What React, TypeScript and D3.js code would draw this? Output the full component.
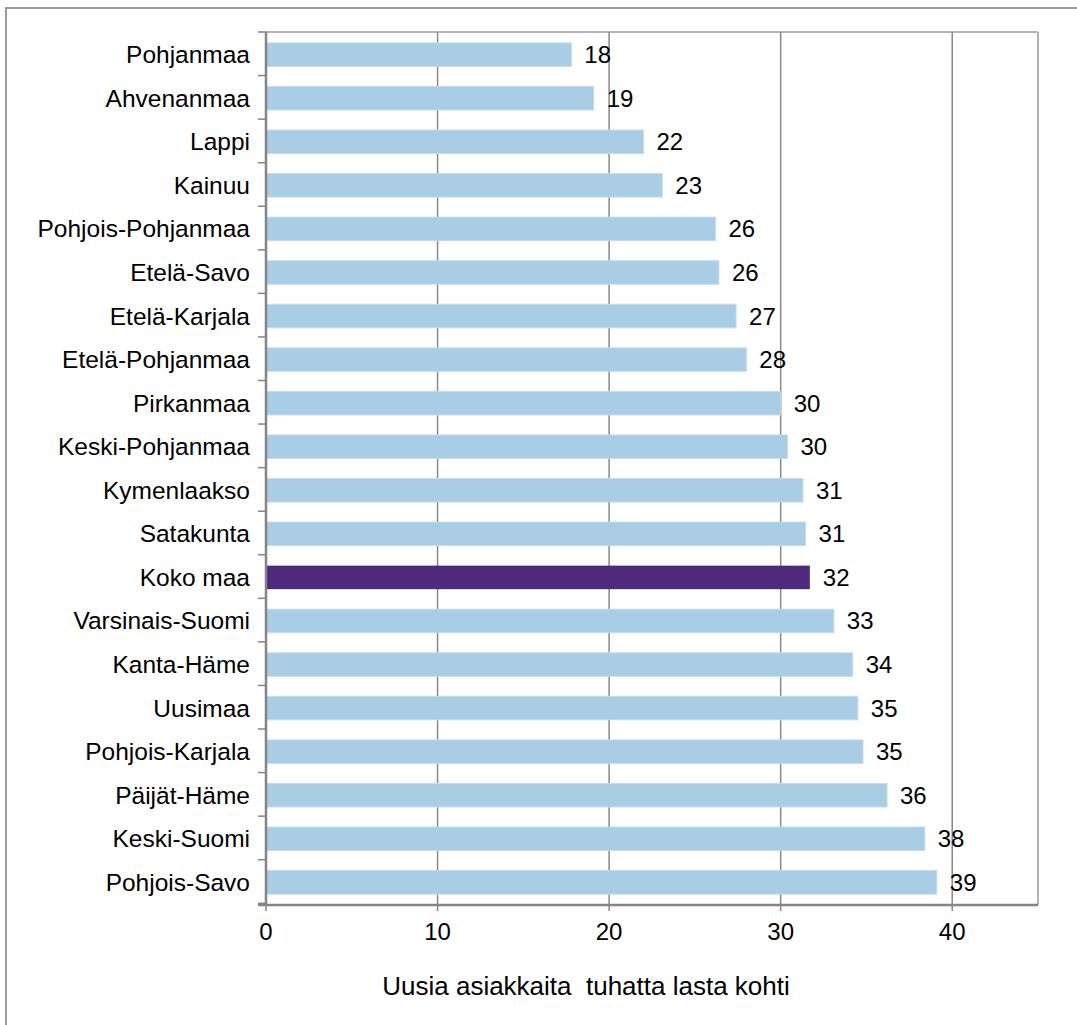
import React from "react";
import * as d3 from "d3";

const regions = [
  "Pohjanmaa",
  "Ahvenanmaa",
  "Lappi",
  "Kainuu",
  "Pohjois-Pohjanmaa",
  "Etelä-Savo",
  "Etelä-Karjala",
  "Etelä-Pohjanmaa",
  "Pirkanmaa",
  "Keski-Pohjanmaa",
  "Kymenlaakso",
  "Satakunta",
  "Koko maa",
  "Varsinais-Suomi",
  "Kanta-Häme",
  "Uusimaa",
  "Pohjois-Karjala",
  "Päijät-Häme",
  "Keski-Suomi",
  "Pohjois-Savo",
];

const values = [
  17.8, 19.1, 22.0, 23.1, 26.2, 26.4, 27.4, 28.0, 30.0, 30.4, 31.3, 31.45, 31.7,
  33.1, 34.2, 34.5, 34.8, 36.2, 38.4, 39.1,
];

const xTicks = [0, 10, 20, 30, 40];
const highlight = "Koko maa";
const axisTitle = "Uusia asiakkaita  tuhatta lasta kohti";

const W = 1077;
const H = 1025;
const left = 266;
const right = 1038;
const top = 32;
const bottom = 905;
const font = "'Liberation Sans', Arial, sans-serif";

const App = () => {
  const x = d3.scaleLinear().domain([0, 45]).range([left, right]);
  const y = d3
    .scaleBand<string>()
    .domain(regions)
    .range([top, bottom])
    .paddingInner(0.46)
    .paddingOuter(0.25);
  const step = y.step();
  const bounds = d3.range(regions.length + 1).map((i) => top + i * step);

  return (
    <svg
      width={W}
      height={H}
      style={{ position: "absolute", left: 0, top: 0, background: "#fff" }}
    >
      {/* outer frame */}
      <rect x={6} y={8} width={1090} height={1040} fill="#fff" stroke="#9a9a9a" strokeWidth={2} />

      {/* plot border top / right */}
      <line x1={left} x2={right} y1={top} y2={top} stroke="#b4b4b4" strokeWidth={2} />
      <line x1={right} x2={right} y1={top} y2={bottom} stroke="#b4b4b4" strokeWidth={2} />

      {/* gridlines + x ticks */}
      {xTicks.slice(1).map((t) => (
        <line key={t} x1={x(t)} x2={x(t)} y1={top} y2={bottom + 6} stroke="#888" strokeWidth={1.5} />
      ))}

      {/* bars */}
      {regions.map((r, i) => (
        <rect
          key={r}
          x={x(0)}
          y={y(r)}
          width={x(values[i]) - x(0)}
          height={y.bandwidth()}
          fill={r === highlight ? "#4e2a7e" : "#a9cde5"}
          stroke={r === highlight ? "none" : "#c3dcee"}
          strokeWidth={1}
        />
      ))}

      {/* value labels */}
      {regions.map((r, i) => (
        <text
          key={r}
          x={x(values[i]) + 13}
          y={(y(r) as number) + y.bandwidth() / 2 + 8.5}
          fontFamily={font}
          fontSize={24}
          fill="#000"
        >
          {Math.round(values[i])}
        </text>
      ))}

      {/* y axis */}
      <line x1={left} x2={left} y1={top} y2={bottom} stroke="#858585" strokeWidth={2.5} />
      {bounds.map((b, i) => (
        <line key={i} x1={left - 8} x2={left} y1={b} y2={b} stroke="#858585" strokeWidth={1.5} />
      ))}
      {regions.map((r) => (
        <text
          key={r}
          x={250}
          y={(y(r) as number) + y.bandwidth() / 2 + 8.5}
          textAnchor="end"
          fontFamily={font}
          fontSize={24.5}
          fill="#000"
        >
          {r}
        </text>
      ))}

      {/* x axis */}
      <line x1={left - 8} x2={right} y1={bottom} y2={bottom} stroke="#858585" strokeWidth={2.5} />
      <line x1={left} x2={left} y1={bottom} y2={bottom + 6} stroke="#858585" strokeWidth={1.5} />
      {xTicks.map((t) => (
        <text
          key={t}
          x={x(t)}
          y={940}
          textAnchor="middle"
          fontFamily={font}
          fontSize={24}
          fill="#000"
        >
          {t}
        </text>
      ))}
      <text
        x={586}
        y={995}
        textAnchor="middle"
        fontFamily={font}
        fontSize={26}
        fill="#000"
        style={{ whiteSpace: "pre" }}
      >
        {axisTitle}
      </text>
    </svg>
  );
};

export default App;
